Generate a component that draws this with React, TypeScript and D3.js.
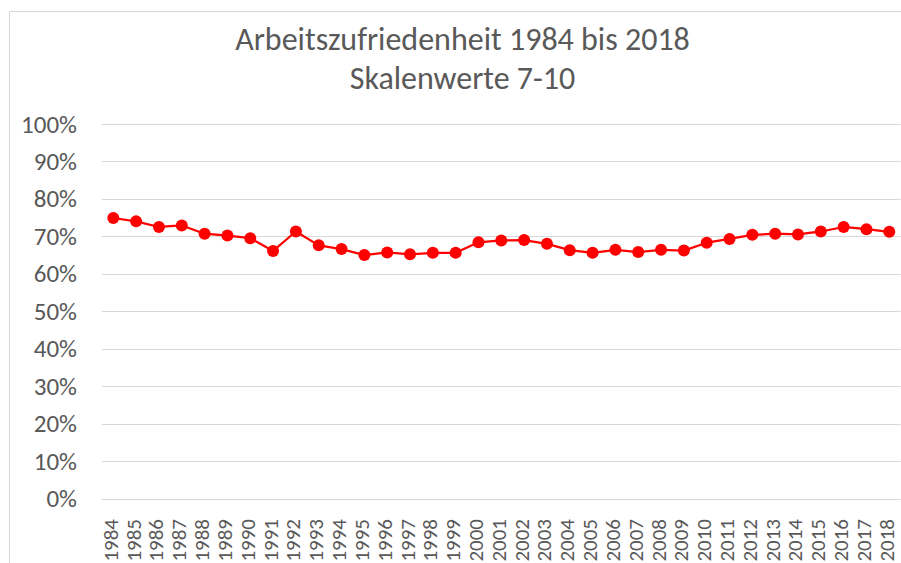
import { FC, useEffect, useRef } from 'react';
import * as d3 from 'd3';

const years = [
  '1984', '1985', '1986', '1987', '1988', '1989', '1990', '1991', '1992', '1993',
  '1994', '1995', '1996', '1997', '1998', '1999', '2000', '2001', '2002', '2003',
  '2004', '2005', '2006', '2007', '2008', '2009', '2010', '2011', '2012', '2013',
  '2014', '2015', '2016', '2017', '2018'
];

const satisfaction = [
  0.749, 0.740, 0.725, 0.729, 0.707, 0.702, 0.695, 0.661, 0.713, 0.676,
  0.666, 0.650, 0.657, 0.652, 0.656, 0.656, 0.684, 0.689, 0.690, 0.680,
  0.663, 0.656, 0.664, 0.658, 0.664, 0.662, 0.683, 0.693, 0.704, 0.707,
  0.705, 0.713, 0.725, 0.719, 0.712
];

const yTicks = [0, 0.1, 0.2, 0.3, 0.4, 0.5, 0.6, 0.7, 0.8, 0.9, 1];

const titleLines = ['Arbeitszufriedenheit 1984 bis 2018', 'Skalenwerte 7-10'];

const App: FC = () => {
  const svgRef = useRef<SVGSVGElement>(null);

  useEffect(() => {
    if (!svgRef.current) return;
    const width = 901;
    const height = 563;
    const font = 'Calibri, Carlito, "Noto Sans", sans-serif';
    const textColor = '#595959';

    d3.select(svgRef.current).selectAll('*').remove();
    const svg = d3.select(svgRef.current)
        .attr('width', width)
        .attr('height', height);

    svg.append('rect')
        .attr('width', width)
        .attr('height', height)
        .attr('fill', '#fff');

    // chart frame
    svg.append('path')
        .attr('d', `M9.5,${height} V11.5 H${width}`)
        .attr('fill', 'none')
        .attr('stroke', '#d9d9d9')
        .attr('stroke-width', 1);

    const x = d3.scaleBand()
        .domain(years)
        .range([101.9, 900.7]);

    const y = d3.scaleLinear()
        .domain([0, 1])
        .range([498.5, 124]);

    // title
    titleLines.forEach((line, i) => {
      svg.append('text')
          .attr('x', 462.5)
          .attr('y', 50 + i * 38.5)
          .attr('text-anchor', 'middle')
          .attr('fill', textColor)
          .attr('font-family', font)
          .attr('font-size', '32px')
          .text(line);
    });

    // gridlines + y labels
    yTicks.forEach(t => {
      svg.append('line')
          .attr('x1', 101.9)
          .attr('x2', 900.7)
          .attr('y1', Math.round(y(t)) + 0.5)
          .attr('y2', Math.round(y(t)) + 0.5)
          .attr('stroke', '#d9d9d9')
          .attr('stroke-width', 1);

      svg.append('text')
          .attr('x', 77)
          .attr('y', y(t))
          .attr('dy', '0.34em')
          .attr('text-anchor', 'end')
          .attr('fill', textColor)
          .attr('font-family', font)
          .attr('font-size', '25px')
          .text(d3.format('.0%')(t));
    });

    // x labels, rotated
    years.forEach(yr => {
      const cx = (x(yr) ?? 0) + x.bandwidth() / 2;
      svg.append('text')
          .attr('transform', `translate(${cx + 4.5},519) rotate(-90)`)
          .attr('text-anchor', 'end')
          .attr('fill', textColor)
          .attr('font-family', font)
          .attr('font-size', '21px')
          .text(yr);
    });

    const pts: [number, number][] = years.map((yr, i) => [
      (x(yr) ?? 0) + x.bandwidth() / 2,
      y(satisfaction[i])
    ]);

    svg.append('path')
        .attr('d', d3.line()(pts) ?? '')
        .attr('fill', 'none')
        .attr('stroke', '#ff0000')
        .attr('stroke-width', 2.25)
        .attr('stroke-linejoin', 'round');

    svg.selectAll('circle.pt')
        .data(pts)
        .enter()
        .append('circle')
        .attr('class', 'pt')
        .attr('cx', d => d[0])
        .attr('cy', d => d[1])
        .attr('r', 6)
        .attr('fill', '#ff0000');
  }, []);

  return (
      <div style={{ position: 'absolute', left: 0, top: 0 }}>
        <svg ref={svgRef} style={{ display: 'block' }} />
      </div>
  );
};

export default App;
